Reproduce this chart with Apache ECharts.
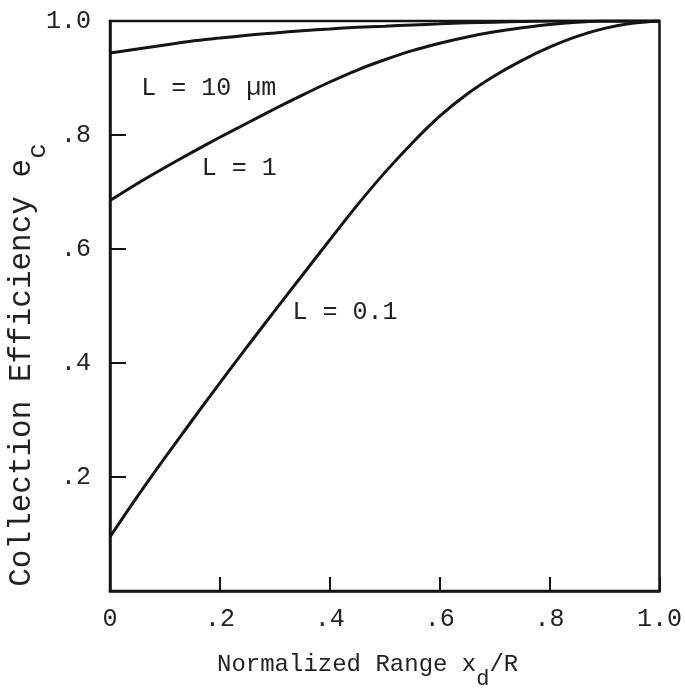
<!DOCTYPE html>
<html><head><meta charset="utf-8">
<script src="https://cdn.jsdelivr.net/npm/echarts@6/dist/echarts.min.js"></script>
<style>html,body{margin:0;padding:0;background:#fff}#c{width:685px;height:690px}</style>
</head><body><div id="c"></div>
<script>
// Normalized range x_d/R
const xValues = [0,0.05,0.1,0.15,0.2,0.25,0.3,0.35,0.4,0.45,0.5,0.55,0.6,0.65,0.7,0.75,0.8,0.85,0.9,0.95,1.0];
// Collection efficiency e_c for each diffusion length L
const effL10 = [0.944,0.951,0.958,0.965,0.970,0.975,0.979,0.983,0.986,0.989,0.991,0.993,0.995,0.997,0.998,0.999,1.0,1.0,1.0,1.0,1.0];
const effL1  = [0.685,0.715,0.743,0.770,0.796,0.821,0.846,0.870,0.893,0.914,0.932,0.948,0.961,0.972,0.981,0.988,0.994,0.998,1.0,1.0,1.0];
const effL01 = [0.095,0.166,0.234,0.300,0.365,0.429,0.492,0.554,0.616,0.677,0.734,0.786,0.833,0.872,0.904,0.931,0.954,0.973,0.987,0.996,1.0];
const xTickLabels = ['0','.2','.4','.6','.8','1.0'];
const yTickLabels = ['','.2','.4','.6','.8','1.0'];
const curveNames = ['L = 10 µm','L = 1','L = 0.1'];

const INK = '#141414';
const MONO = '"Liberation Mono","DejaVu Sans Mono",monospace';
const chart = echarts.init(document.getElementById('c'), null, {renderer:'canvas'});

function pairs(ys){ return xValues.map((x,i)=>[x,ys[i]]); }
function lineSeries(name, ys){
  return {name, type:'line', data:pairs(ys), showSymbol:false, smooth:0.3,
          lineStyle:{color:INK, width:3}, clip:true, z:3};
}

chart.setOption({
  animation:false,
  backgroundColor:'#fff',
  grid:{left:110, right:13, top:21, bottom:99, show:true, borderColor:INK, borderWidth:2.5, backgroundColor:'transparent'},
  xAxis:{type:'value', min:0, max:1, interval:0.2,
    axisLine:{lineStyle:{color:INK, width:2.5}},
    axisTick:{inside:true, length:14, lineStyle:{color:INK, width:2}},
    splitLine:{show:false},
    axisLabel:{formatter:v=>xTickLabels[Math.round(v/0.2)], fontFamily:MONO, fontSize:25, color:'#222', margin:16}
  },
  yAxis:{type:'value', min:0, max:1, interval:0.2,
    axisLine:{lineStyle:{color:INK, width:2.5}},
    axisTick:{inside:true, length:16, lineStyle:{color:INK, width:2}},
    splitLine:{show:false},
    axisLabel:{formatter:v=>yTickLabels[Math.round(v/0.2)], fontFamily:MONO, fontSize:25, color:'#222', margin:19}
  },
  series:[lineSeries(curveNames[0], effL10), lineSeries(curveNames[1], effL1), lineSeries(curveNames[2], effL01)]
});

const anchors = [[0.057,0.881],[0.167,0.742],[0.332,0.488]];
const annot = anchors.map((a,i)=>{
  const p = chart.convertToPixel({gridIndex:0}, a);
  return {type:'text', x:p[0], y:p[1], z:10,
    style:{text:curveNames[i], fill:'#222', font:'25px '+MONO, textAlign:'left', textVerticalAlign:'middle'}};
});

chart.setOption({graphic:[
  ...annot,
  {type:'text', x:217, y:665, z:10,
   style:{text:'{m|Normalized Range x}{s|d}{m|/R}', textAlign:'left', textVerticalAlign:'middle', fill:'#222',
     rich:{m:{fontFamily:MONO, fontSize:24, lineHeight:40, fill:'#222'},
           s:{fontFamily:MONO, fontSize:22, lineHeight:12, height:12, verticalAlign:'bottom', fill:'#222'}}}},
  {type:'text', x:22, y:365, rotation:Math.PI/2, z:10,
   style:{text:'{m|Collection Efficiency e}{s|c}', textAlign:'center', textVerticalAlign:'middle', fill:'#222',
     rich:{m:{fontFamily:MONO, fontSize:31, lineHeight:44, fill:'#222'},
           s:{fontFamily:MONO, fontSize:26, lineHeight:12, height:12, verticalAlign:'bottom', fill:'#222'}}}}
]});
</script></body></html>
